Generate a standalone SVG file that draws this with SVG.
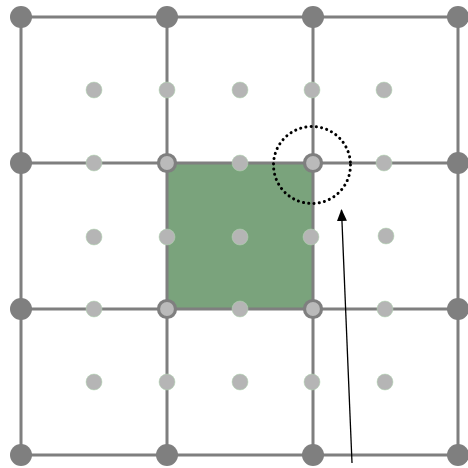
<svg xmlns="http://www.w3.org/2000/svg" width="468" height="468" viewBox="0 0 468 468">
<style>
.grid{stroke:#7f7f7f;stroke-width:3;fill:none}
.dark{fill:#7f7f7f}
.light{fill:#b5b5b5;stroke:#b0d8b0;stroke-width:0.5}
.ring{fill:#bababa;stroke:#7f7f7f;stroke-width:3.2}
</style>
<defs>
<marker id="ah" markerWidth="12" markerHeight="10" refX="11" refY="5" orient="auto" markerUnits="userSpaceOnUse">
<path d="M0,0 L12,5 L0,10 Z" fill="#000"/>
</marker>
</defs>
<rect width="468" height="468" fill="#fff"/>
<g id="cell"><rect x="167" y="163" width="146" height="146" fill="#7aa37c"/></g>
<g id="grid" class="grid">
<path d="M21,17V455M167,17V455M313,17V455M458,17V455M21,17H458M21,163H458M21,309H458M21,455H458"/>
</g>
<g id="nodes">
<g class="dark">
<circle cx="21" cy="17" r="11"/><circle cx="167" cy="17" r="11"/><circle cx="313" cy="17" r="11"/><circle cx="458" cy="17" r="11"/>
<circle cx="21" cy="163" r="11"/><circle cx="458" cy="163" r="11"/>
<circle cx="21" cy="309" r="11"/><circle cx="458" cy="309" r="11"/>
<circle cx="21" cy="455" r="11"/><circle cx="167" cy="455" r="11"/><circle cx="313" cy="455" r="11"/><circle cx="458" cy="455" r="11"/>
</g>
<g class="light">
<circle cx="94" cy="90" r="8"/><circle cx="167" cy="90" r="8"/><circle cx="240" cy="90" r="8"/><circle cx="312" cy="90" r="8"/><circle cx="384" cy="90" r="8"/>
<circle cx="94" cy="163" r="8"/><circle cx="240" cy="163" r="8"/><circle cx="384" cy="163" r="8"/>
<circle cx="94" cy="237" r="8"/><circle cx="167" cy="237" r="8"/><circle cx="240" cy="237" r="8"/><circle cx="311" cy="237" r="8"/><circle cx="386" cy="236" r="8"/>
<circle cx="94" cy="309" r="8"/><circle cx="240" cy="309" r="8"/><circle cx="385" cy="309" r="8"/>
<circle cx="94" cy="382" r="8"/><circle cx="167" cy="382" r="8"/><circle cx="240" cy="382" r="8"/><circle cx="312" cy="382" r="8"/><circle cx="385" cy="382" r="8"/>
</g>
<g class="ring">
<circle cx="167" cy="163" r="8.5"/><circle cx="313" cy="163" r="8.5"/>
<circle cx="167" cy="309" r="8.5"/><circle cx="313" cy="309" r="8.5"/>
</g>
</g>
<g id="highlight"><circle cx="312" cy="165" r="38.5" fill="none" stroke="#000" stroke-width="3" stroke-dasharray="0.1 5.2" stroke-linecap="round"/></g>
<g id="connectors"><line x1="352" y1="463" x2="341.5" y2="210" stroke="#000" stroke-width="1.3" marker-end="url(#ah)"/></g>
</svg>
